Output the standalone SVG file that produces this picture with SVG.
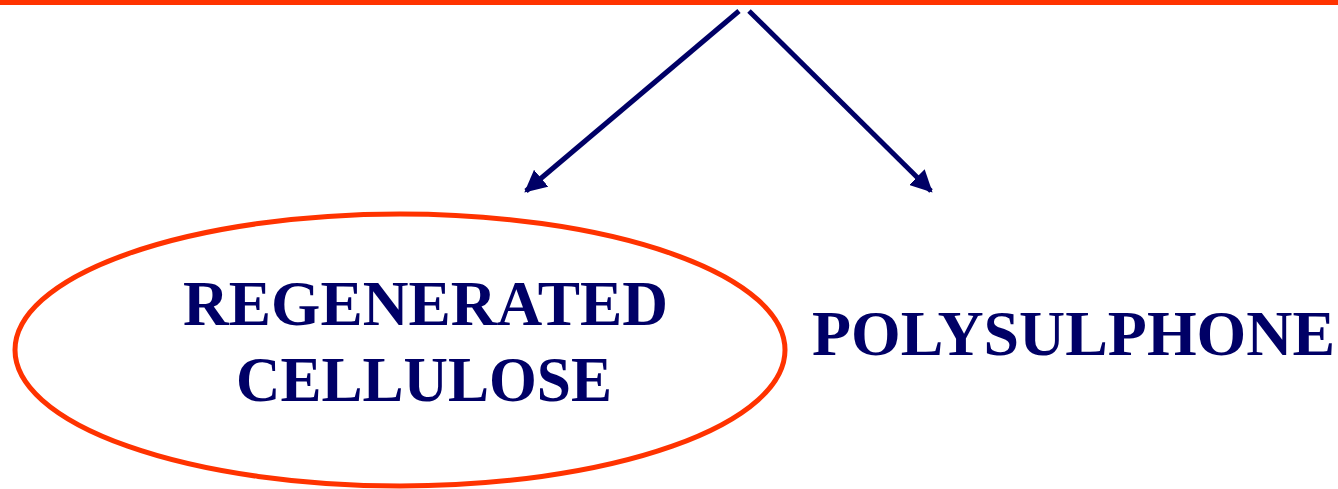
<svg xmlns="http://www.w3.org/2000/svg" width="1338" height="489" viewBox="0 0 1338 489">
<style>
.lbl{font-family:"Liberation Serif","Times New Roman",serif;font-weight:bold;font-size:64px;fill:#000066}
.conn{stroke:#000066;stroke-width:5;fill:none}
</style>
<defs>
<marker id="ah" viewBox="0 0 10 10" refX="9" refY="5" markerWidth="4.4" markerHeight="4.4" orient="auto" markerUnits="strokeWidth">
<path d="M0,0 L10,5 L0,10 z" fill="#000066"/>
</marker>
</defs>
<rect x="0" y="0" width="1338" height="489" fill="#ffffff"/>
<g id="topline"><rect x="0" y="0" width="1338" height="5" fill="#FF3300"/></g>
<g id="connectors">
<line class="conn" x1="739" y1="11" x2="526" y2="191" marker-end="url(#ah)"/>
<line class="conn" x1="749" y1="11" x2="931" y2="191" marker-end="url(#ah)"/>
</g>
<g id="regenerated">
<ellipse cx="400" cy="350" rx="385" ry="136" fill="none" stroke="#FF3300" stroke-width="5"/>
<text class="lbl" x="183" y="325" textLength="485" lengthAdjust="spacingAndGlyphs">REGENERATED</text>
<text class="lbl" x="236" y="401" textLength="376" lengthAdjust="spacingAndGlyphs">CELLULOSE</text>
</g>
<g id="polysulphone">
<text class="lbl" x="812" y="355" textLength="523" lengthAdjust="spacingAndGlyphs">POLYSULPHONE</text>
</g>
</svg>
